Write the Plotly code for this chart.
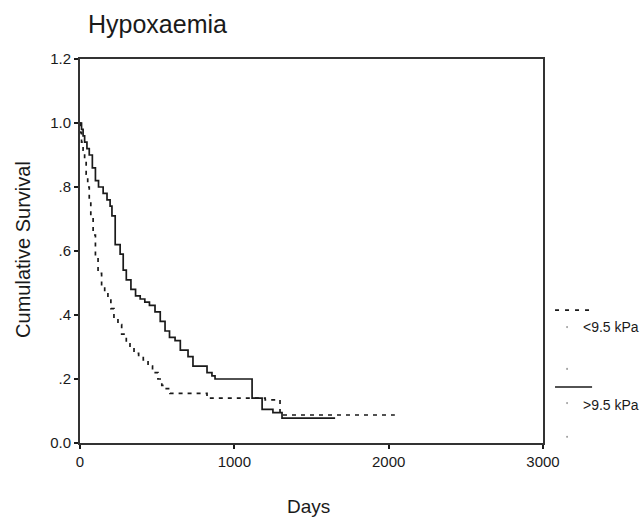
import plotly.graph_objects as go

# ---- data ----
title_text = "Hypoxaemia"
x_title = "Days"
y_title = "Cumulative Survival"
series_names = ["<9.5 kPa", ">9.5 kPa"]

x_ticks = [0, 1000, 2000, 3000]
y_ticks = [0.0, 0.2, 0.4, 0.6, 0.8, 1.0, 1.2]
y_tick_labels = ["0.0", ".2", ".4", ".6", ".8", "1.0", "1.2"]

# <9.5 kPa (dashed)
low_days = [0, 5, 10, 20, 30, 40, 50, 60, 70, 85, 100, 117, 140, 160, 181, 200, 220,
            246, 270, 300, 324, 350, 380, 410, 441, 470, 505, 530, 550, 583, 823,
            1200, 1296, 2040]
low_surv = [1.0, 0.97, 0.94, 0.915, 0.88, 0.84, 0.80, 0.76, 0.71, 0.65, 0.58, 0.53,
            0.49, 0.47, 0.45, 0.42, 0.39, 0.37, 0.34, 0.31, 0.30, 0.28, 0.27, 0.26,
            0.24, 0.22, 0.20, 0.18, 0.17, 0.155, 0.14, 0.135, 0.0875, 0.0875]

# >9.5 kPa (solid)
high_days = [0, 10, 20, 30, 45, 60, 80, 100, 120, 150, 175, 195, 207, 228, 260, 280,
             300, 330, 360, 390, 420, 450, 486, 520, 551, 580, 616, 650, 700, 732,
             823, 855, 875, 1115, 1180, 1250, 1309, 1653]
high_surv = [1.0, 0.98, 0.96, 0.94, 0.92, 0.90, 0.86, 0.82, 0.80, 0.78, 0.76, 0.74,
             0.71, 0.62, 0.59, 0.54, 0.51, 0.48, 0.46, 0.45, 0.44, 0.43, 0.41, 0.38,
             0.35, 0.33, 0.32, 0.29, 0.27, 0.24, 0.22, 0.21, 0.20, 0.14, 0.105,
             0.095, 0.078, 0.078]

FONT = "Liberation Sans, Arial, sans-serif"
INK = "#1a1a1a"

fig = go.Figure()
fig.add_trace(go.Scatter(x=low_days, y=low_surv, mode="lines", line_shape="hv",
                         name=series_names[0],
                         line=dict(color=INK, width=1.7, dash="4px,5px")))
fig.add_trace(go.Scatter(x=high_days, y=high_surv, mode="lines", line_shape="hv",
                         name=series_names[1],
                         line=dict(color=INK, width=1.7)))

fig.update_layout(
    width=642, height=519,
    margin=dict(l=80, r=99, t=59, b=76, autoexpand=False),
    paper_bgcolor="white", plot_bgcolor="white",
    showlegend=False,
    font=dict(family=FONT, color=INK),
)
fig.update_xaxes(range=[0, 3000], tickvals=x_ticks, ticks="outside", ticklen=4,
                 tickwidth=2, tickcolor=INK, showline=True, linewidth=2,
                 linecolor="#333", mirror=True, showgrid=False, zeroline=False,
                 tickfont=dict(size=15, family=FONT, color=INK))
fig.update_yaxes(range=[0, 1.2], tickvals=y_ticks, ticktext=y_tick_labels,
                 ticks="outside", ticklen=4, tickwidth=2, tickcolor=INK,
                 showline=True, linewidth=2, linecolor="#333", mirror=True,
                 showgrid=False, zeroline=False,
                 tickfont=dict(size=15, family=FONT, color=INK))

# titles
fig.add_annotation(text=title_text, xref="paper", yref="paper", x=0.012, y=1.09,
                   xanchor="left", yanchor="middle", showarrow=False,
                   font=dict(size=25, family=FONT, color=INK))
fig.add_annotation(text=y_title, xref="paper", yref="paper", x=-0.123, y=0.503,
                   xanchor="center", yanchor="middle", textangle=-90, showarrow=False,
                   font=dict(size=20, family=FONT, color=INK))
fig.add_annotation(text=x_title, xref="paper", yref="paper", x=0.494, y=-0.166,
                   xanchor="center", yanchor="middle", showarrow=False,
                   font=dict(size=19, family=FONT, color=INK))

# custom legend
leg_x0, leg_x1 = 1.026, 1.106
fig.add_shape(type="line", xref="paper", yref="paper", x0=leg_x0, x1=leg_x1,
              y0=0.346, y1=0.346, line=dict(color=INK, width=1.6, dash="4px,6px"))
fig.add_shape(type="line", xref="paper", yref="paper", x0=leg_x0, x1=leg_x1,
              y0=0.146, y1=0.146, line=dict(color=INK, width=1.6))
fig.add_annotation(text=series_names[0], xref="paper", yref="paper", x=1.082, y=0.302,
                   xanchor="left", yanchor="middle", showarrow=False,
                   font=dict(size=14, family=FONT, color=INK))
fig.add_annotation(text=series_names[1], xref="paper", yref="paper", x=1.082, y=0.099,
                   xanchor="left", yanchor="middle", showarrow=False,
                   font=dict(size=14, family=FONT, color=INK))
for yy in [0.302, 0.193, 0.104, 0.016]:
    fig.add_shape(type="circle", xref="paper", yref="paper",
                  x0=1.050, x1=1.054, y0=yy - 0.003, y1=yy + 0.003,
                  line=dict(width=0), fillcolor="#999")

fig.write_html(
    "out.html",
    config={"displayModeBar": False},
    post_script="document.body.style.margin='0';document.body.style.overflow='hidden';",
)
